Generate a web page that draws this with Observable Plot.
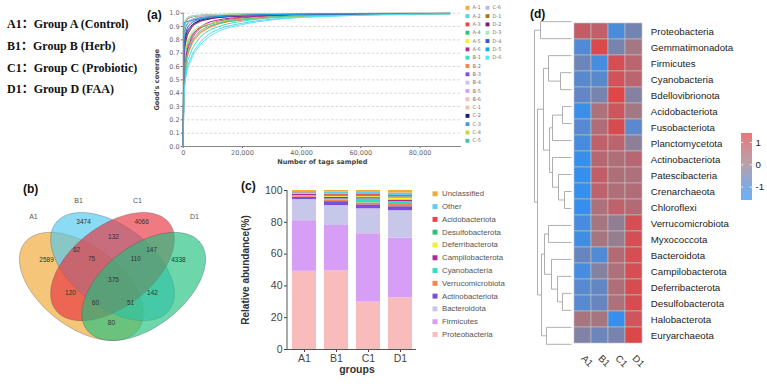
<!DOCTYPE html>
<html><head><meta charset="utf-8">
<script src="https://cdn.jsdelivr.net/npm/d3@7"></script>
<script src="https://cdn.jsdelivr.net/npm/@observablehq/plot@0.6"></script>
<style>
body{margin:0;background:#fff;}
#wrap{position:relative;width:767px;height:391px;overflow:hidden;background:#fff;}
#wrap svg{position:absolute;left:0;top:0;}
.grp{position:absolute;left:7px;font-family:"Liberation Serif","Noto Sans CJK SC",serif;font-weight:bold;font-size:12px;line-height:14px;color:#111;white-space:nowrap;}
.pl{position:absolute;font-family:"Liberation Sans",Arial,sans-serif;font-weight:bold;font-size:12px;line-height:12px;color:#111;}
</style></head><body><div id="wrap"></div>
<script>
// ---------- top-left caption ----------
const groupNames = ["A1：Group A (Control)", "B1：Group B (Herb)", "C1：Group C (Probiotic)", "D1：Group D (FAA)"];

// ---------- (a) Good's coverage ----------
const sampleIds = ["A-1","A-2","A-3","A-4","A-5","A-6","B-1","B-2","B-3","B-4","B-5","B-6","C-1","C-2","C-3","C-4","C-5","C-6","D-1","D-2","D-3","D-4","D-5","D-6"];
const sampleColors = ["#f5a83a","#5bcff0","#ef434b","#2ec27e","#f5ef2e","#ae2b98","#2fe0c0","#f5844f","#7b4fd9","#c9c7e9","#d79ef6","#f9bcbc","#e9c6a8","#1b1b78","#4b9cc3","#c3da44","#44c2a8","#b3bce9","#a27a1c","#80186c","#a9e9bb","#3553d3","#12a9e9","#55e6f8"];
const tagDepths = [0, 300, 1000, 2500, 5000, 8000, 12000, 20000, 30000, 45000, 90000];
const coverageValues = [
  [0, 0.45, 0.62, 0.74, 0.83, 0.88, 0.92, 0.95, 0.97, 0.985, 0.997],
  [0, 0.40, 0.55, 0.66, 0.76, 0.83, 0.88, 0.925, 0.955, 0.975, 0.995],
  [0, 0.50, 0.66, 0.78, 0.87, 0.91, 0.94, 0.965, 0.98, 0.99, 0.998],
  [0, 0.55, 0.72, 0.82, 0.88, 0.91, 0.935, 0.955, 0.97, 0.983, 0.997],
  [0, 0.60, 0.78, 0.88, 0.93, 0.955, 0.97, 0.98, 0.988, 0.993, 0.998],
  [0, 0.50, 0.68, 0.80, 0.88, 0.925, 0.95, 0.97, 0.982, 0.99, 0.998],
  [0, 0.42, 0.58, 0.70, 0.80, 0.86, 0.90, 0.94, 0.965, 0.98, 0.996],
  [0, 0.47, 0.63, 0.75, 0.84, 0.885, 0.92, 0.95, 0.97, 0.984, 0.997],
  [0, 0.70, 0.82, 0.89, 0.935, 0.955, 0.97, 0.98, 0.988, 0.993, 0.998],
  [0, 0.85, 0.94, 0.97, 0.98, 0.985, 0.99, 0.993, 0.995, 0.997, 0.999],
  [0, 0.78, 0.90, 0.95, 0.97, 0.98, 0.986, 0.99, 0.993, 0.996, 0.999],
  [0, 0.72, 0.86, 0.93, 0.96, 0.972, 0.98, 0.987, 0.991, 0.995, 0.999],
  [0, 0.88, 0.95, 0.975, 0.983, 0.987, 0.99, 0.993, 0.995, 0.997, 0.999],
  [0, 0.72, 0.84, 0.90, 0.94, 0.96, 0.972, 0.982, 0.989, 0.994, 0.998],
  [0, 0.80, 0.90, 0.94, 0.962, 0.973, 0.98, 0.987, 0.991, 0.995, 0.999],
  [0, 0.55, 0.74, 0.84, 0.89, 0.915, 0.935, 0.955, 0.97, 0.983, 0.997],
  [0, 0.48, 0.64, 0.76, 0.85, 0.895, 0.925, 0.955, 0.972, 0.985, 0.997],
  [0, 0.90, 0.96, 0.978, 0.985, 0.989, 0.992, 0.994, 0.996, 0.997, 0.999],
  [0, 0.86, 0.94, 0.968, 0.98, 0.985, 0.989, 0.992, 0.995, 0.997, 0.999],
  [0, 0.68, 0.80, 0.88, 0.93, 0.952, 0.967, 0.978, 0.986, 0.992, 0.998],
  [0, 0.87, 0.95, 0.972, 0.982, 0.986, 0.99, 0.993, 0.995, 0.997, 0.999],
  [0, 0.75, 0.86, 0.92, 0.95, 0.965, 0.975, 0.984, 0.99, 0.994, 0.998],
  [0, 0.93, 0.935, 0.945, 0.955, 0.965, 0.975, 0.983, 0.989, 0.994, 0.998],
  [0, 0.38, 0.53, 0.64, 0.74, 0.81, 0.865, 0.915, 0.95, 0.973, 0.995]
];
const coverageTicks = [0, 0.1, 0.2, 0.3, 0.4, 0.5, 0.6, 0.7, 0.8, 0.9, 1.0];
const tagTicks = [0, 20000, 40000, 60000, 80000];

// ---------- (b) Venn ----------
const vennSets = ["A1", "B1", "C1", "D1"];
const vennColors = ["#f0a832", "#4ec8ee", "#e8323f", "#1ec07e"];
const ellipseCX = [0.35, 0.5, 0.5, 0.65];
const ellipseCY = [0.47, 0.57, 0.57, 0.47];
const ellipseAngle = [140, 140, 40, 40];
const ellipseA = 0.35, ellipseB = 0.2;
const setLabelX = [0.120, 0.337, 0.620, 0.894];
const setLabelY = [0.821, 0.902, 0.902, 0.821];
const vennCounts = [2589, 3474, 4066, 4338, 62, 132, 147, 75, 110, 375, 120, 142, 60, 51, 80];
const vennRegionX = [0.183, 0.361, 0.640, 0.817, 0.327, 0.505, 0.688, 0.399, 0.611, 0.505, 0.298, 0.692, 0.418, 0.587, 0.495];
const vennRegionY = [0.605, 0.796, 0.796, 0.605, 0.655, 0.721, 0.655, 0.610, 0.610, 0.505, 0.439, 0.439, 0.389, 0.389, 0.288];

// ---------- (c) stacked bars ----------
const groups = ["A1", "B1", "C1", "D1"];
const phyla = ["Proteobacteria","Firmicutes","Bacteroidota","Actinobacteriota","Verrucomicrobiota","Cyanobacteria","Campilobacterota","Deferribacterota","Desulfobacterota","Acidobacteriota","Other","Unclassified"];
const phylaColors = ["#f9bcbc","#d79ef6","#c9c7e9","#7b4fd9","#f5844f","#2fe0c0","#ae2b98","#f5ef2e","#2ec27e","#ef434b","#5bcff0","#f5a83a"];
const abundA1 = [49.2, 31.8, 13.3, 1.5, 0.6, 0.4, 0.8, 0.3, 0.4, 0.3, 0.8, 0.6];
const abundB1 = [49.5, 28.5, 12.5, 2.5, 1.0, 0.7, 1.0, 0.5, 0.8, 0.6, 1.4, 1.0];
const abundC1 = [29.8, 43.0, 15.7, 2.5, 1.2, 2.5, 0.8, 0.6, 0.8, 0.6, 1.3, 1.2];
const abundD1 = [32.5, 37.5, 17.3, 2.5, 2.0, 1.2, 1.0, 1.2, 0.8, 0.8, 1.6, 1.6];
const abundTicks = [0, 20, 40, 60, 80, 100];

// ---------- (d) heatmap ----------
const heatTaxa = ["Proteobacteria","Gemmatimonadota","Firmicutes","Cyanobacteria","Bdellovibrionota","Acidobacteriota","Fusobacteriota","Planctomycetota","Actinobacteriota","Patescibacteria","Crenarchaeota","Chloroflexi","Verrucomicrobiota","Myxococcota","Bacteroidota","Campilobacterota","Deferribacterota","Desulfobacterota","Halobacterota","Euryarchaeota"];
const heatA1 = [0.85, -1.0, -0.6, -0.85, -0.7, -1.4, -0.9, -1.2, -1.45, -1.45, -1.45, -1.45, -1.2, -1.3, -0.65, -1.2, -0.9, -0.9, 0.2, -0.35];
const heatB1 = [0.75, 1.35, -1.2, -0.85, -0.45, 0.3, 0.4, 0.75, 0.55, 0.8, 0.7, 0.3, 0.15, 0.2, -1.0, -0.3, -0.7, -0.65, 0.2, -0.6];
const heatC1 = [-1.1, -0.45, 1.2, 1.1, 1.45, 1.0, 1.3, 0.65, 0.35, 0.35, 0.35, 0.7, -0.15, -0.1, 0.45, 0.3, 0.35, 0.3, -1.45, -0.45];
const heatD1 = [-0.5, 0.1, 0.6, 0.6, -0.3, 0.1, -0.8, -0.2, 0.55, 0.3, 0.4, 0.45, 1.2, 1.2, 1.2, 1.2, 1.25, 1.25, 1.05, 1.4];
const heatLegendTicks = [1, 0, -1];
// row dendrogram (hclust style: negative = leaf row, positive = earlier merge)
const mergeLeft   = [-1, -4, -3, -6, 4, -11, -10, -9, 5, 3, -13, -17, -16, -15, 11, -19, 15, 10, 1];
const mergeRight  = [-2, -5, 2, -7, -8, -12, 6, 7, 8, 9, -14, -18, 12, 13, 14, -20, 16, 17, 18];
const mergeHeight = [31, 11, 23, 9, 19, 7, 13, 19, 22, 28, 23, 9, 14, 20, 27, 25, 30, 34, 37];

// ======================================================
const W = 767, H = 391;
const wrap = document.getElementById("wrap");
const baseStyle = {background: "transparent", overflow: "visible"};

groupNames.forEach((t, i) => {
  const d = document.createElement("div");
  d.className = "grp"; d.textContent = t;
  d.style.top = ([24, 46, 67.5, 89][i] - 7) + "px";
  wrap.appendChild(d);
});
[["(a)", 147, 8.5], ["(b)", 23, 183], ["(c)", 241, 180], ["(d)", 530, 8]].forEach(([t, x, y]) => {
  const d = document.createElement("div");
  d.className = "pl"; d.textContent = t; d.style.left = x + "px"; d.style.top = y + "px";
  wrap.appendChild(d);
});

// ---- (a)
const covData = sampleIds.flatMap((id, i) => tagDepths.map((t, j) => ({sample: id, tags: t, cov: coverageValues[i][j]})));
const commaFmt = d3.format(",");
wrap.appendChild(Plot.plot({
  width: W, height: H, marginLeft: 182.7, marginRight: 306, marginTop: 12.7, marginBottom: 245,
  style: {...baseStyle, fontFamily: "DejaVu Sans", fontSize: "6.5px", color: "#666"},
  x: {domain: [0, 94000], label: null},
  y: {domain: [0, 1], label: null},
  color: {domain: sampleIds, range: sampleColors},
  marks: [
    Plot.gridY(coverageTicks.slice(1), {stroke: "#d6d6d6", strokeOpacity: 1, strokeDasharray: "2.5,2"}),
    Plot.axisX(tagTicks, {tickFormat: d => commaFmt(d), tickSize: 2, tickPadding: 1.5, fill: "#666"}),
    Plot.axisY(coverageTicks, {tickFormat: d => d.toFixed(1), tickSize: 2, tickPadding: 1.5, fill: "#666"}),
    Plot.line(covData, {x: "tags", y: "cov", z: "sample", stroke: "sample", curve: "monotone-x", strokeWidth: 1}),
    Plot.ruleX([0], {stroke: "#888"}),
    Plot.ruleY([0], {stroke: "#888"}),
    Plot.text(["Good's coverage"], {frameAnchor: "left", textAnchor: "middle", dx: -26, rotate: -90, fontWeight: "bold", fontSize: 6.6, fill: "#444"}),
    Plot.text(["Number of tags sampled"], {frameAnchor: "bottom", textAnchor: "middle", dy: 17, fontWeight: "bold", fontSize: 6.5, fill: "#444"})
  ]
}));
// legend (a)
const legA = sampleIds.map((id, i) => ({id, col: i < 17 ? 0 : 1, row: i < 17 ? i : i - 17}));
wrap.appendChild(Plot.plot({
  width: W, height: H, marginLeft: 467, marginRight: W - 487, marginTop: 7.3, marginBottom: H - 140.3,
  style: {...baseStyle, fontFamily: "DejaVu Sans"},
  x: {domain: [0, 1], axis: null}, y: {domain: [16, 0], axis: null},
  color: {domain: sampleIds, range: sampleColors},
  marks: [
    Plot.dot(legA, {x: "col", y: "row", symbol: "square", fill: "id", r: 2.2}),
    Plot.text(legA, {x: "col", y: "row", text: "id", dx: 5, textAnchor: "start", fontSize: 5, fill: "#777"})
  ]
}));

// ---- (b) Venn
const ellipsePts = (i) => d3.range(0, 361, 3).map(deg => {
  const t = deg * Math.PI / 180, th = ellipseAngle[i] * Math.PI / 180;
  return {
    x: ellipseCX[i] + ellipseA * Math.cos(t) * Math.cos(th) - ellipseB * Math.sin(t) * Math.sin(th),
    y: ellipseCY[i] + ellipseA * Math.cos(t) * Math.sin(th) + ellipseB * Math.sin(t) * Math.cos(th)
  };
});
wrap.appendChild(Plot.plot({
  width: W, height: H, marginLeft: 19, marginRight: W - 205, marginTop: 212, marginBottom: H - 340,
  style: {...baseStyle, fontFamily: "Liberation Sans"},
  x: {domain: [0.053, 0.947], axis: null}, y: {domain: [0.198, 0.842], axis: null},
  marks: [
    ...vennSets.map((s, i) => Plot.line(ellipsePts(i), {x: "x", y: "y", fill: vennColors[i], fillOpacity: 0.65, stroke: "#4a4a4a", strokeOpacity: 0.55, strokeWidth: 0.6})),
    Plot.text(vennCounts, {x: (d, i) => vennRegionX[i], y: (d, i) => vennRegionY[i], text: d => String(d), fontSize: 6.5, fill: "#333"}),
    Plot.text(vennSets, {x: (d, i) => setLabelX[i], y: (d, i) => setLabelY[i], text: d => d, fontSize: 7, fill: "#555"})
  ]
}));

// ---- (c) stacked bars
const abund = [abundA1, abundB1, abundC1, abundD1];
const stackData = groups.flatMap((g, gi) => phyla.map((p, pi) => ({group: g, phylum: p, value: abund[gi][pi]})));
const leftLine = (index, scales, values, dims) => {
  const l = document.createElementNS("http://www.w3.org/2000/svg", "line");
  l.setAttribute("x1", dims.marginLeft); l.setAttribute("x2", dims.marginLeft);
  l.setAttribute("y1", dims.marginTop); l.setAttribute("y2", dims.height - dims.marginBottom);
  l.setAttribute("stroke", "#555");
  return l;
};
wrap.appendChild(Plot.plot({
  width: W, height: H, marginLeft: 287, marginRight: W - 416, marginTop: 190, marginBottom: H - 349,
  style: {...baseStyle, fontFamily: "Liberation Sans", fontSize: "10.5px", color: "#444"},
  x: {domain: groups, paddingInner: 0.26, paddingOuter: 0.14, label: null},
  y: {domain: [0, 100], label: null},
  color: {domain: phyla, range: phylaColors},
  marks: [
    Plot.barY(stackData, {x: "group", y: "value", fill: "phylum", order: phyla}),
    Plot.axisY(abundTicks, {tickSize: 3, tickPadding: 2, fill: "#444"}),
    Plot.axisX({tickSize: 3, tickPadding: 2, fill: "#444"}),
    Plot.ruleY([0], {stroke: "#555"}),
    leftLine,
    Plot.text(["Relative abundance(%)"], {frameAnchor: "left", textAnchor: "middle", dx: -42, rotate: -90, fontWeight: "bold", fontSize: 10, fill: "#333"}),
    Plot.text(["groups"], {frameAnchor: "bottom", textAnchor: "middle", dy: 23, dx: 5, fontWeight: "bold", fontSize: 10.5, fill: "#333"})
  ]
}));
// legend (c)
const legC = phyla.slice().reverse().map((p, i) => ({p, row: i}));
wrap.appendChild(Plot.plot({
  width: W, height: H, marginLeft: 434.5, marginRight: W - 534.5, marginTop: 193.3, marginBottom: H - 334,
  style: {...baseStyle, fontFamily: "Liberation Sans"},
  x: {domain: [0, 1], axis: null}, y: {domain: [11, 0], axis: null},
  color: {domain: phyla, range: phylaColors},
  marks: [
    Plot.dot(legC, {x: 0, y: "row", symbol: "square", fill: "p", r: 2.8}),
    Plot.text(legC, {x: 0, y: "row", text: "p", dx: 7, textAnchor: "start", fontSize: 7.8, fill: "#555"})
  ]
}));

// ---- (d) heatmap
const heatCols = [heatA1, heatB1, heatC1, heatD1];
const heatData = heatTaxa.flatMap((t, ti) => groups.map((g, gi) => ({taxon: t, group: g, z: heatCols[gi][ti]})));
const heatColor = {type: "linear", domain: [-1.5, -0.75, 0, 0.75, 1.5], range: ["#3590ee", "#5f88c8", "#9e7c86", "#c0606a", "#e04444"], interpolate: "rgb", clamp: true};
wrap.appendChild(Plot.plot({
  width: W, height: H, marginLeft: 572.3, marginRight: W - 643.3, marginTop: 12.7, marginBottom: H - 352.3,
  style: {...baseStyle, fontFamily: "Liberation Sans", fontSize: "9.7px", color: "#222"},
  x: {domain: groups, padding: 0, label: null},
  y: {domain: heatTaxa, padding: 0, label: null},
  color: heatColor,
  marks: [
    Plot.cell(heatData, {x: "group", y: "taxon", fill: "z", stroke: "#c4c4c4", strokeWidth: 0.6}),
    Plot.axisY({anchor: "right", tickSize: 0, tickPadding: 7, fill: "#222"}),
    Plot.axisX({anchor: "bottom", tickSize: 0, tickPadding: 4, tickRotate: 45, fill: "#333"})
  ]
}));
// dendrogram
const nodes = [];
const nodeOf = (c) => c < 0 ? {h: 0, y: -c - 0.5} : nodes[c - 1];
const segs = [];
mergeHeight.forEach((h, j) => {
  const a = nodeOf(mergeLeft[j]), b = nodeOf(mergeRight[j]);
  nodes.push({h, y: (a.y + b.y) / 2});
  segs.push({x1: h, y1: a.y, x2: h, y2: b.y});
  segs.push({x1: h, y1: a.y, x2: a.h, y2: a.y});
  segs.push({x1: h, y1: b.y, x2: b.h, y2: b.y});
});
wrap.appendChild(Plot.plot({
  width: W, height: H, marginLeft: 534, marginRight: W - 571, marginTop: 12.7, marginBottom: H - 352.3,
  style: baseStyle,
  x: {domain: [37, 0], axis: null}, y: {domain: [20, 0], axis: null},
  marks: [Plot.link(segs, {x1: "x1", y1: "y1", x2: "x2", y2: "y2", stroke: "#9a9a9a", strokeWidth: 0.8})]
}));
// colour legend
const steps = d3.range(-1.6, 1.4, 0.01);
wrap.appendChild(Plot.plot({
  width: W, height: H, marginLeft: 741, marginRight: W - 752, marginTop: 133, marginBottom: H - 200,
  style: {...baseStyle, fontFamily: "Liberation Sans"},
  x: {domain: [0, 1], axis: null}, y: {domain: [-1.6, 1.4], axis: null},
  color: heatColor,
  marks: [
    Plot.rect(steps, {x1: 0, x2: 1, y1: d => d, y2: d => d + 0.011, fill: d => d}),
    Plot.ruleY(heatLegendTicks, {x1: 0, x2: 0.2, stroke: "#fff", strokeOpacity: 0.8}),
    Plot.ruleY(heatLegendTicks, {x1: 0.8, x2: 1, stroke: "#fff", strokeOpacity: 0.8}),
    Plot.text(heatLegendTicks, {x: 1, y: d => d, text: d => String(d), dx: 3, textAnchor: "start", fontSize: 9.7, fill: "#222"})
  ]
}));
</script></body></html>
